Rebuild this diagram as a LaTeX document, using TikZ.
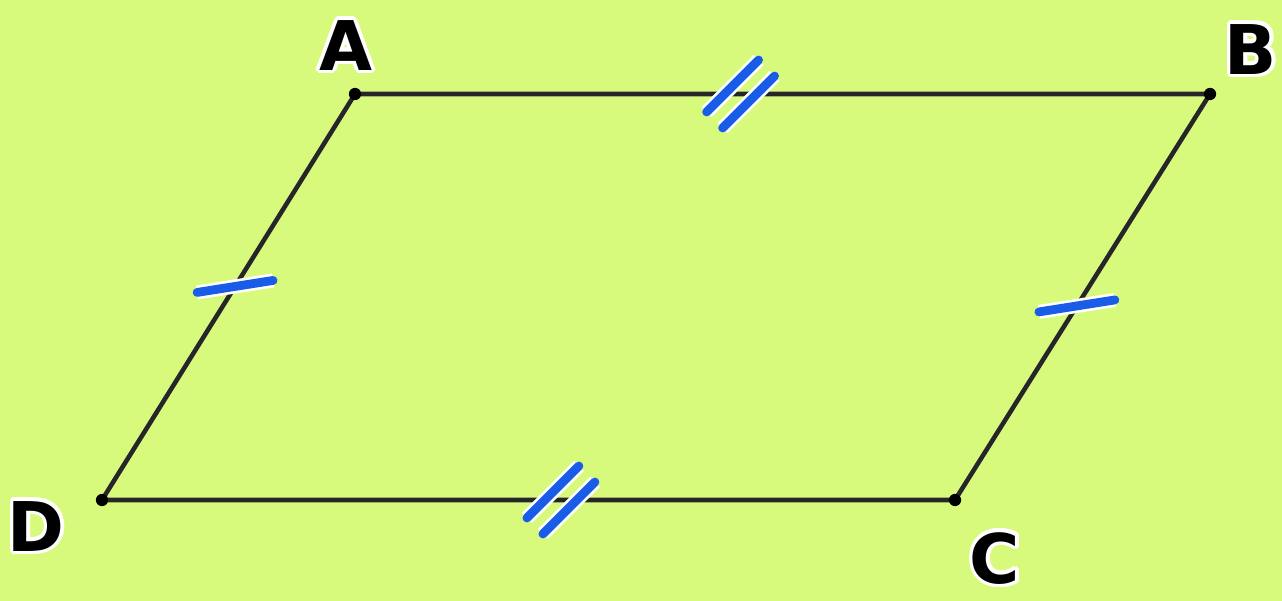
\documentclass[tikz,border=0pt]{standalone}
\usepackage{fontspec}
\setsansfont{DejaVu Sans}
\usepackage{contour}
\usepackage{tikz}
\usetikzlibrary{calc}

\definecolor{paper}{RGB}{216,250,124}
\definecolor{markblue}{RGB}{24,92,232}

\contourlength{2pt}

\begin{document}
\begin{tikzpicture}[x=0.02cm, y=-0.02cm,
        side/.style={draw=black!85, line width=2.6pt, line join=round},
        glow/.style={draw=white, line width=2.4pt, line join=round},
        hatch/.style={draw=markblue, line width=5pt, line cap=round,
                      preaction={draw=white, line width=8pt}},
        vertex/.style={circle, fill=black, inner sep=0pt, minimum size=7pt},
        letter/.style={font=\sffamily\bfseries\fontsize{39}{39}\selectfont, inner sep=0pt}
      ]
        \fill[paper] (0,0) rectangle (1282,601);

        \coordinate (A) at (355,94);
        \coordinate (B) at (1210,94);
        \coordinate (C) at (955,500);
        \coordinate (D) at (102,500);

        % white shadow under the sides
        \draw[glow, yshift=-1.8pt] (A) -- (B) -- (C) -- (D) -- cycle;
        \draw[side] (A) -- (B) -- (C) -- (D) -- cycle;

        \node[vertex] (dotA) at (A) {};
        \node[vertex] (dotB) at (B) {};
        \node[vertex] (dotC) at (C) {};
        \node[vertex] (dotD) at (D) {};

        \node[letter] (labA) at (346,47)  {\contour{white}{A}};
        \node[letter] (labB) at (1251,51) {\contour{white}{B}};
        \node[letter] (labC) at (995,560) {\contour{white}{C}};
        \node[letter] (labD) at (36,528)  {\contour{white}{D}};

        % where the marks sit
        \path (A) -- coordinate[pos=0.451] (mAB) (B);
        \path (D) -- coordinate[pos=0.538] (mDC) (C);
        \path (A) -- coordinate[pos=0.474] (mAD) (D);
        \path (B) -- coordinate[pos=0.522] (mBC) (C);

        % single marks
        \draw[hatch] ([shift={(-38,6)}]mAD) -- ([shift={(38,-6)}]mAD);
        \draw[hatch] ([shift={(-38,6)}]mBC) -- ([shift={(38,-6)}]mBC);

        % double marks
        \draw[hatch] ([shift={(-34,18)}]mAB) -- ([shift={(18,-34)}]mAB);
        \draw[hatch] ([shift={(-18,34)}]mAB) -- ([shift={(34,-18)}]mAB);
        \draw[hatch] ([shift={(-34,18)}]mDC) -- ([shift={(18,-34)}]mDC);
        \draw[hatch] ([shift={(-18,34)}]mDC) -- ([shift={(34,-18)}]mDC);
      \end{tikzpicture}
\end{document}
